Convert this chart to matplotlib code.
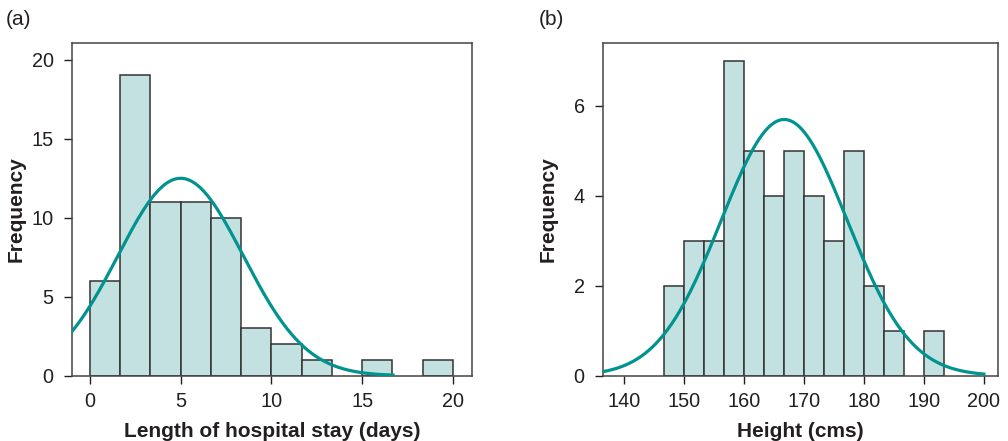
import matplotlib
matplotlib.use('Agg')
import matplotlib.pyplot as plt
import numpy as np

plt.rcParams['font.family'] = ['Liberation Sans', 'DejaVu Sans']

# (a) length of hospital stay
stay_edges = [0, 1.667, 3.333, 5, 6.667, 8.333, 10, 11.667, 13.333, 15, 16.667, 18.333, 20]
stay_counts = [6, 19, 11, 11, 10, 3, 2, 1, 0, 1, 0, 1]
stay_mean, stay_sd = 5.0, 3.46
stay_ticks = [0, 5, 10, 15, 20]
stay_yticks = [0, 5, 10, 15, 20]

# (b) height
height_edges = [146.667, 150, 153.333, 156.667, 160, 163.333, 166.667, 170,
                173.333, 176.667, 180, 183.333, 186.667, 190, 193.333]
height_counts = [2, 3, 3, 7, 5, 4, 5, 4, 3, 5, 2, 1, 0, 1]
height_mean, height_sd = 166.7, 10.5
height_ticks = [140, 150, 160, 170, 180, 190, 200]
height_yticks = [0, 2, 4, 6]

bar_fill = '#c4e1e2'
bar_edge = '#333333'
curve_col = '#00938f'
text_col = '#231f20'


def draw_hist(ax, edges, counts, mean, sd, curve_range, xlim, ylim, xticks, yticks, xlabel):
    edges = np.array(edges)
    widths = np.diff(edges)
    counts = np.array(counts)
    keep = counts > 0
    ax.bar(edges[:-1][keep], counts[keep], width=widths[keep], align='edge',
           color=bar_fill, edgecolor=bar_edge, linewidth=1.1, zorder=2)
    # fitted normal curve scaled to the counts
    n = counts.sum()
    bw = widths.mean()
    xs = np.linspace(curve_range[0], curve_range[1], 300)
    ys = n * bw / (np.sqrt(2 * np.pi) * sd) * np.exp(-(xs - mean) ** 2 / (2 * sd ** 2))
    ax.plot(xs, ys, color=curve_col, linewidth=2.3, zorder=3, clip_on=True)
    ax.set_xlim(*xlim)
    ax.set_ylim(*ylim)
    ax.set_xticks(xticks)
    ax.set_yticks(yticks)
    ax.tick_params(labelsize=14.3, colors=text_col, length=6, width=1, direction='out')
    ax.tick_params(axis='y', pad=7)
    ax.tick_params(axis='x', pad=5.5)
    ax.set_xlabel(xlabel, fontsize=15, fontweight='bold', color=text_col)
    ax.set_ylabel('Frequency', fontsize=15, fontweight='bold', color=text_col)
    ax.xaxis.set_label_coords(0.5, -0.14)
    ax.yaxis.set_label_coords(-0.115, 0.5)
    for s in ax.spines.values():
        s.set_color('#444444')
        s.set_linewidth(1.1)


fig = plt.figure(figsize=(10.08, 4.41), dpi=100)
ax1 = fig.add_axes([0.0711, 0.148, 0.3972, 0.7545])
ax2 = fig.add_axes([0.598, 0.148, 0.3918, 0.7545])

draw_hist(ax1, stay_edges, stay_counts, stay_mean, stay_sd, (-1.0, 16.7),
          (-1.0, 21.05), (0, 21.05), stay_ticks, stay_yticks,
          'Length of hospital stay (days)')
draw_hist(ax2, height_edges, height_counts, height_mean, height_sd, (136.45, 200),
          (136.45, 202.3), (0, 7.4), height_ticks, height_yticks,
          'Height (cms)')

fig.text(0.006, 0.955, '(a)', fontsize=15, color=text_col, va='center')
fig.text(0.534, 0.955, '(b)', fontsize=15, color=text_col, va='center')

fig.savefig('out.png', dpi=100)
